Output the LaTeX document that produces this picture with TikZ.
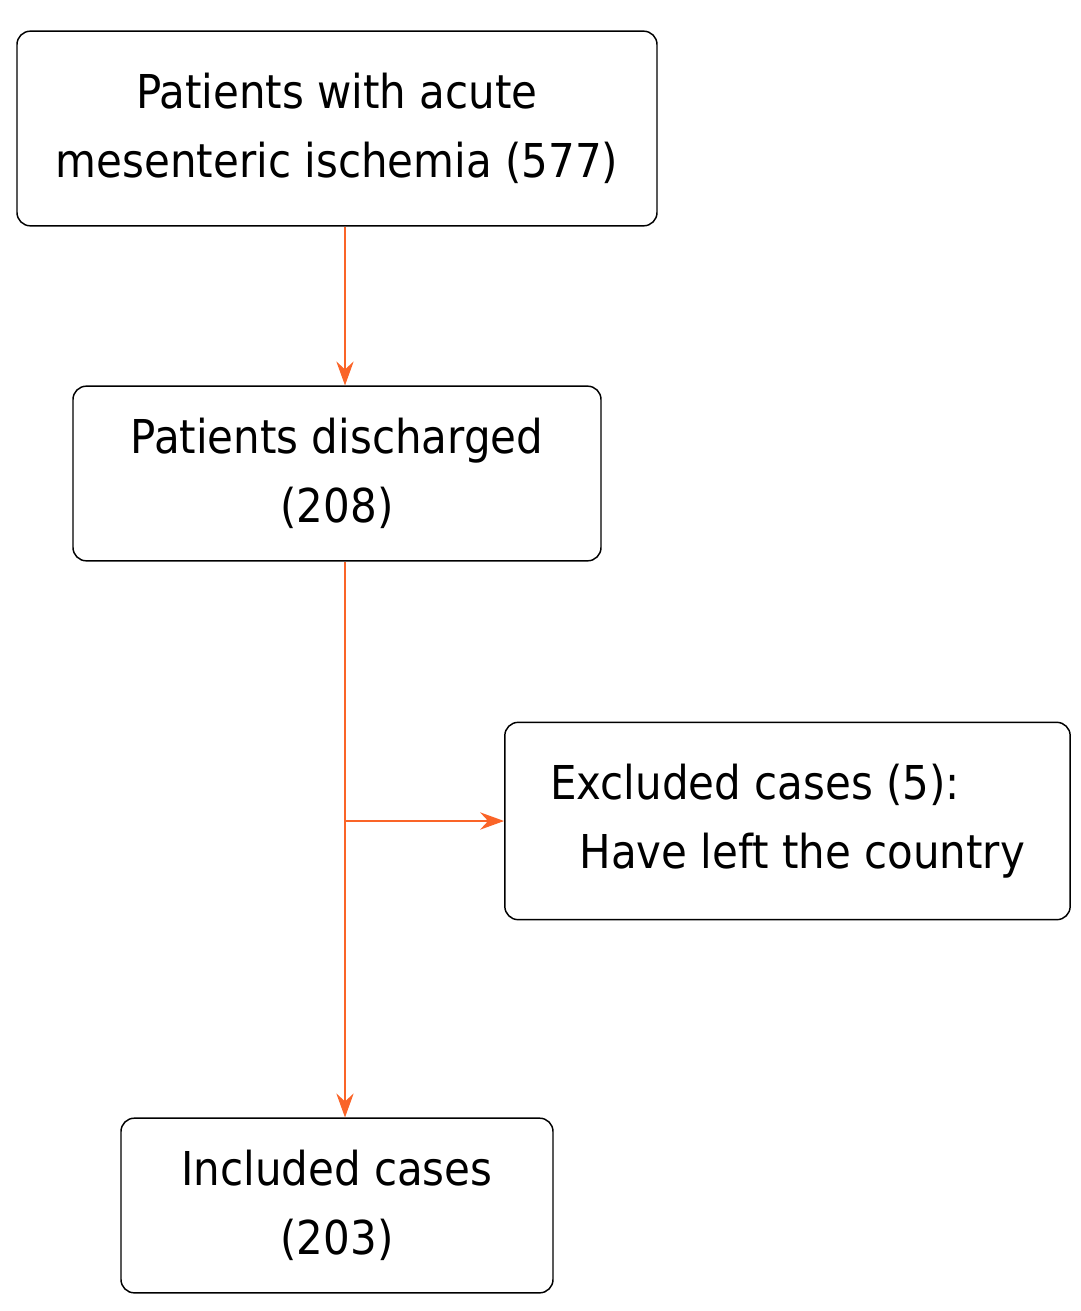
\documentclass[tikz,border=0pt]{standalone}
\usepackage{fontspec}
\setmainfont{DejaVu Sans Condensed}
\usetikzlibrary{arrows.meta}
\definecolor{flow}{RGB}{250,100,40}
\tikzset{
  stagebox/.style={draw,rounded corners=10pt,line width=1.1pt,align=center,
    font=\fontsize{35}{52}\selectfont,inner sep=0pt},
  flowline/.style={draw=flow,line width=1pt},
  flowarrow/.style={flowline,-{Stealth[length=18pt,width=13pt,inset=6pt]}}
}
\begin{document}
\begin{tikzpicture}[x=0.75pt,y=-0.75pt]
\useasboundingbox (0,0) rectangle (1081,1311);
\node[stagebox,minimum width=480pt,minimum height=146pt] (start) at (337,128.5)
  {Patients with acute\\mesenteric ischemia (577)};
\node[stagebox,minimum width=396pt,minimum height=131pt] (discharged) at (337,473.5)
  {Patients discharged\\(208)};
\node[stagebox,minimum width=424pt,minimum height=148pt,align=left] (excluded) at (787.5,821)
  {Excluded cases (5):\\\hspace{22pt}Have left the country};
\node[stagebox,minimum width=324pt,minimum height=131pt] (included) at (337,1205.5)
  {Included cases\\(203)};
\coordinate (spine) at (345,0);
\coordinate (branch) at (345,821);
\draw[flowarrow] (start.south -| spine) -- (discharged.north -| spine);
\draw[flowarrow] (discharged.south -| spine) -- (included.north -| spine);
\draw[flowarrow] (branch) -- (excluded.west);
\end{tikzpicture}
\end{document}
